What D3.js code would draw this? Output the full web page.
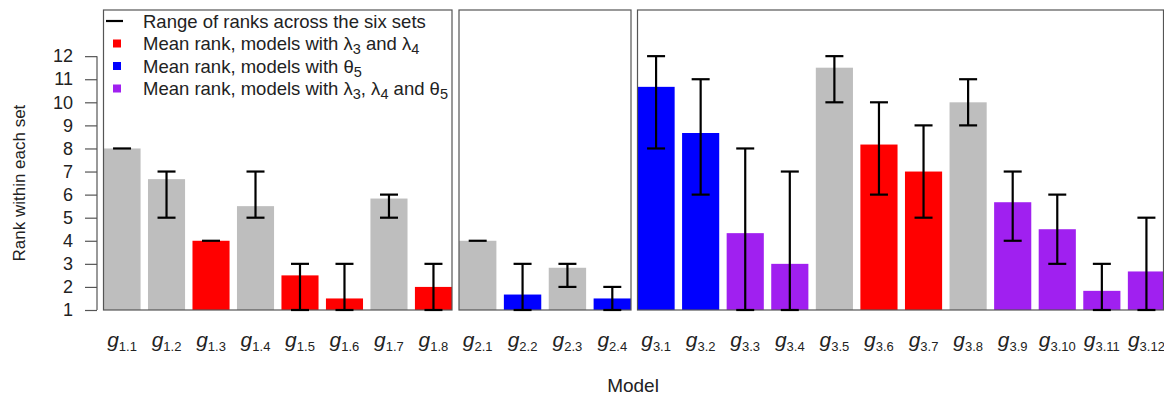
<!DOCTYPE html>
<html>
<head>
<meta charset="utf-8">
<script src="https://cdn.jsdelivr.net/npm/d3@7"></script>
<style>
  body { margin: 0; background: #fff; }
  svg { font-family: "Liberation Sans", Arial, sans-serif; }
</style>
</head>
<body>
<div id="chart"></div>
<script>
// model labels (subscript of g), panel membership, colour group
const modelSubs = ["1.1", "1.2", "1.3", "1.4", "1.5", "1.6", "1.7", "1.8",
    "2.1", "2.2", "2.3", "2.4",
    "3.1", "3.2", "3.3", "3.4", "3.5", "3.6", "3.7", "3.8", "3.9", "3.10", "3.11", "3.12"];
const panelOf = [1, 1, 1, 1, 1, 1, 1, 1, 2, 2, 2, 2, 3, 3, 3, 3, 3, 3, 3, 3, 3, 3, 3, 3];
const groupOf = ["none", "none", "lambda", "none", "lambda", "lambda", "none", "lambda",
    "none", "theta", "none", "theta",
    "theta", "theta", "both", "both", "none", "lambda", "lambda", "none", "both", "both", "both", "both"];
const meanRank = [8, 6.67, 4, 5.5, 2.5, 1.5, 5.83, 2,
    4, 1.67, 2.83, 1.5,
    10.67, 8.67, 4.33, 3, 11.5, 8.17, 7, 10, 5.67, 4.5, 1.83, 2.67];
const minRank = [8, 5, 4, 5, 1, 1, 5, 1,
    4, 1, 2, 1,
    8, 6, 1, 1, 10, 6, 5, 9, 4, 3, 1, 1];
const maxRank = [8, 7, 4, 7, 3, 3, 6, 3,
    4, 3, 3, 2,
    12, 11, 8, 7, 12, 10, 9, 11, 7, 6, 3, 5];
const yTicks = [1, 2, 3, 4, 5, 6, 7, 8, 9, 10, 11, 12];

const groupColor = { none: "#bebebe", lambda: "#ff0000", theta: "#0000ff", both: "#a020f0" };

const width = 1164, height = 399;
const svg = d3.select("#chart").append("svg")
    .attr("width", width)
    .attr("height", height);

const y = d3.scaleLinear().domain([1, 14]).range([310, 10]);

// panel extents in pixels
const panelRange = { 1: [103.5, 452], 2: [459, 631], 3: [637.5, 1165] };

const data = modelSubs.map((s, i) => ({
    sub: s, panel: panelOf[i], group: groupOf[i],
    mean: meanRank[i], lo: minRank[i], hi: maxRank[i]
}));

const xs = {};
[1, 2, 3].forEach(p => {
    xs[p] = d3.scaleBand()
        .domain(data.filter(d => d.panel === p).map(d => d.sub))
        .range(panelRange[p])
        .paddingInner(0.2 / 1.2)
        .paddingOuter(0);
});

// bars
svg.selectAll(".bar")
    .data(data)
    .enter().append("rect")
    .attr("class", "bar")
    .attr("x", d => xs[d.panel](d.sub))
    .attr("width", d => xs[d.panel].bandwidth())
    .attr("y", d => y(d.mean))
    .attr("height", d => y(1) - y(d.mean))
    .style("fill", d => groupColor[d.group]);

// panel boxes
[1, 2, 3].forEach(p => {
    svg.append("rect")
        .attr("x", panelRange[p][0])
        .attr("y", y(14))
        .attr("width", Math.min(panelRange[p][1], 1163.5) - panelRange[p][0])
        .attr("height", y(1) - y(14))
        .style("fill", "none")
        .style("stroke", "#555")
        .style("stroke-width", 1.2);
});

// error bars
const cx = d => xs[d.panel](d.sub) + xs[d.panel].bandwidth() / 2;
const capW = 9;
const errs = svg.selectAll(".err")
    .data(data)
    .enter().append("g")
    .attr("class", "err")
    .style("stroke", "#000")
    .style("stroke-width", 2.2);

errs.filter(d => d.hi > d.lo).append("line")
    .attr("x1", cx).attr("x2", cx)
    .attr("y1", d => y(d.lo)).attr("y2", d => y(d.hi));
errs.append("line")
    .attr("x1", d => cx(d) - capW).attr("x2", d => cx(d) + capW)
    .attr("y1", d => y(d.hi)).attr("y2", d => y(d.hi));
errs.filter(d => d.hi > d.lo).append("line")
    .attr("x1", d => cx(d) - capW).attr("x2", d => cx(d) + capW)
    .attr("y1", d => y(d.lo)).attr("y2", d => y(d.lo));

// y axis
const yAxis = svg.append("g")
    .attr("transform", "translate(97,0)")
    .call(d3.axisLeft(y).tickValues(yTicks).tickSize(12).tickPadding(12));
yAxis.select(".domain").remove();
yAxis.append("line")
    .attr("y1", y(1)).attr("y2", y(12))
    .style("stroke", "#555").style("stroke-width", 1.2);
yAxis.selectAll(".tick line").style("stroke", "#555").style("stroke-width", 1.2);
yAxis.selectAll(".tick text")
    .style("font-size", "18px")
    .style("font-family", "\"Liberation Sans\", Arial, sans-serif")
    .style("fill", "#222");

// x labels g_{i.j}
const xl = svg.selectAll(".xlab")
    .data(data)
    .enter().append("text")
    .attr("class", "xlab")
    .attr("x", cx)
    .attr("y", 347)
    .attr("text-anchor", "middle")
    .style("fill", "#222");
xl.append("tspan")
    .style("font-size", "21px")
    .style("font-style", "italic")
    .text("g");
xl.append("tspan")
    .attr("dy", 4)
    .style("font-size", "13px")
    .text(d => d.sub);

// axis titles
svg.append("text")
    .attr("transform", "translate(25," + y(6.5) + ") rotate(-90)")
    .attr("text-anchor", "middle")
    .style("font-size", "17px")
    .style("fill", "#222")
    .text("Rank within each set");

svg.append("text")
    .attr("x", 633)
    .attr("y", 392)
    .attr("text-anchor", "middle")
    .style("font-size", "19px")
    .style("fill", "#222")
    .text("Model");

// legend
const legendItems = [
    { type: "line", parts: [["Range of ranks across the six sets"]] },
    { type: "lambda", parts: [["Mean rank, models with λ"], ["3", "sub"], [" and λ"], ["4", "sub"]] },
    { type: "theta", parts: [["Mean rank, models with θ"], ["5", "sub"]] },
    { type: "both", parts: [["Mean rank, models with λ"], ["3", "sub"], [", λ"], ["4", "sub"], [" and θ"], ["5", "sub"]] }
];
const legend = svg.append("g").attr("class", "legend");
legendItems.forEach((item, i) => {
    const ly = 21 + i * 22.5;
    if (item.type === "line") {
        legend.append("line")
            .attr("x1", 106).attr("x2", 123)
            .attr("y1", ly).attr("y2", ly)
            .style("stroke", "#000").style("stroke-width", 2.2);
    } else {
        legend.append("rect")
            .attr("x", 113).attr("y", ly - 4)
            .attr("width", 8).attr("height", 8)
            .style("fill", groupColor[item.type]);
    }
    const t = legend.append("text")
        .attr("x", 143).attr("y", ly + 6.5)
        .style("font-size", "18.5px")
        .style("fill", "#222");
    let shifted = false;
    item.parts.forEach(pt => {
        const ts = t.append("tspan").text(pt[0]);
        if (pt[1] === "sub") {
            ts.attr("dy", shifted ? 0 : 4).style("font-size", "14.5px");
            shifted = true;
        } else if (shifted) {
            ts.attr("dy", -4);
            shifted = false;
        }
    });
});
</script>
</body>
</html>
